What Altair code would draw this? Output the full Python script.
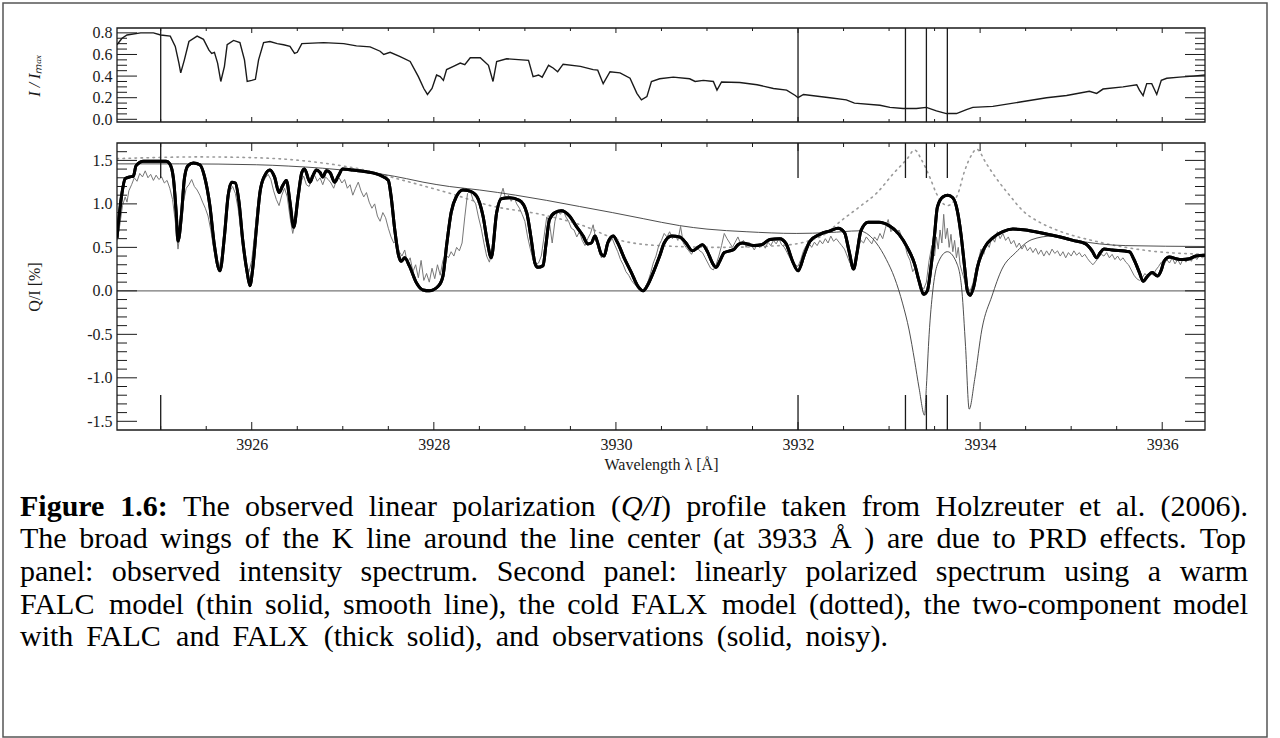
import re
import altair as alt
import pandas as pd

# ---------------------------------------------------------------- ranges
WL_DOMAIN = [3924.52, 3936.47]
INT_DOMAIN = [-0.025, 0.845]
POL_DOMAIN = [-1.6, 1.7]

PANEL_W = 1088
TOP_H = 94
BOT_H = 287
GAP = 21

INK = "#1a1a1a"
SERIF = "Liberation Serif"

# ---------------------------------------------------------------- data
# observed intensity spectrum, I / I_max
INTENSITY = [
    (3924.52, 0.69), (3924.575, 0.75), (3924.63, 0.78), (3924.78, 0.80), (3924.92, 0.80),
    (3925.00, 0.78), (3925.105, 0.77), (3925.16, 0.675), (3925.20, 0.52), (3925.22, 0.43),
    (3925.26, 0.55), (3925.31, 0.72), (3925.40, 0.77), (3925.47, 0.74), (3925.53, 0.64),
    (3925.56, 0.61), (3925.59, 0.62), (3925.625, 0.52), (3925.66, 0.35), (3925.70, 0.49),
    (3925.73, 0.69), (3925.80, 0.73), (3925.87, 0.71), (3925.92, 0.55), (3925.95, 0.35),
    (3926.00, 0.36), (3926.04, 0.37), (3926.075, 0.55), (3926.13, 0.71), (3926.20, 0.72),
    (3926.28, 0.70), (3926.35, 0.69), (3926.42, 0.675), (3926.47, 0.61), (3926.50, 0.62),
    (3926.55, 0.70), (3926.79, 0.71), (3927.01, 0.70), (3927.15, 0.68), (3927.30, 0.67),
    (3927.41, 0.63), (3927.45, 0.60), (3927.52, 0.62), (3927.63, 0.58), (3927.74, 0.535),
    (3927.83, 0.395), (3927.89, 0.285), (3927.93, 0.23), (3927.98, 0.285), (3928.03, 0.41),
    (3928.07, 0.395), (3928.105, 0.36), (3928.14, 0.46), (3928.215, 0.49), (3928.29, 0.52),
    (3928.34, 0.505), (3928.40, 0.57), (3928.51, 0.57), (3928.60, 0.50), (3928.65, 0.35),
    (3928.69, 0.535), (3928.80, 0.56), (3929.04, 0.545), (3929.09, 0.395), (3929.15, 0.41),
    (3929.19, 0.39), (3929.26, 0.50), (3929.31, 0.475), (3929.36, 0.44), (3929.42, 0.51),
    (3929.61, 0.49), (3929.75, 0.46), (3929.80, 0.455), (3929.86, 0.33), (3929.935, 0.44),
    (3930.045, 0.43), (3930.155, 0.38), (3930.23, 0.24), (3930.28, 0.18), (3930.34, 0.21),
    (3930.39, 0.35), (3930.48, 0.375), (3930.63, 0.39), (3930.81, 0.375), (3930.87, 0.35),
    (3930.96, 0.36), (3931.07, 0.35), (3931.11, 0.27), (3931.16, 0.345), (3931.36, 0.34),
    (3931.55, 0.32), (3931.73, 0.285), (3931.875, 0.27), (3931.97, 0.22), (3932.00, 0.20),
    (3932.06, 0.23), (3932.35, 0.20), (3932.53, 0.18), (3932.62, 0.15), (3932.90, 0.13),
    (3933.01, 0.11), (3933.155, 0.10), (3933.30, 0.10), (3933.41, 0.11), (3933.52, 0.078),
    (3933.63, 0.053), (3933.74, 0.053), (3933.85, 0.09), (3933.92, 0.11), (3934.14, 0.12),
    (3934.44, 0.16), (3934.73, 0.20), (3934.95, 0.22), (3935.20, 0.26), (3935.28, 0.24),
    (3935.35, 0.28), (3935.57, 0.30), (3935.72, 0.32), (3935.75, 0.27), (3935.79, 0.22),
    (3935.83, 0.33), (3935.885, 0.33), (3935.94, 0.23), (3935.99, 0.36), (3936.05, 0.38),
    (3936.19, 0.39), (3936.34, 0.40), (3936.47, 0.41),
]

# two-component model (FALC + FALX), Q/I in %
TWO_COMPONENT = [
    (3924.52, 0.61), (3924.57, 1.09), (3924.61, 1.29), (3924.66, 1.31), (3924.70, 1.32),
    (3924.73, 1.44), (3924.81, 1.49), (3925.06, 1.49), (3925.10, 1.46), (3925.14, 1.29),
    (3925.17, 0.90), (3925.19, 0.57), (3925.23, 0.90), (3925.26, 1.29), (3925.30, 1.44),
    (3925.36, 1.47), (3925.43, 1.45), (3925.48, 1.32), (3925.54, 0.98), (3925.59, 0.52),
    (3925.65, 0.23), (3925.70, 0.63), (3925.74, 1.09), (3925.78, 1.25), (3925.82, 1.24),
    (3925.86, 1.02), (3925.90, 0.59), (3925.95, 0.21), (3925.98, 0.06), (3926.01, 0.25),
    (3926.05, 0.71), (3926.09, 1.13), (3926.14, 1.32), (3926.20, 1.39), (3926.25, 1.31),
    (3926.30, 1.13), (3926.34, 1.21), (3926.38, 1.27), (3926.42, 1.02), (3926.46, 0.73),
    (3926.51, 1.09), (3926.55, 1.36), (3926.58, 1.40), (3926.64, 1.25), (3926.67, 1.32),
    (3926.71, 1.39), (3926.75, 1.36), (3926.78, 1.31), (3926.82, 1.38), (3926.86, 1.36),
    (3926.91, 1.25), (3926.95, 1.32), (3927.00, 1.40), (3927.11, 1.39), (3927.26, 1.37),
    (3927.41, 1.33), (3927.50, 1.27), (3927.53, 1.09), (3927.57, 0.71), (3927.61, 0.42),
    (3927.64, 0.34), (3927.68, 0.38), (3927.73, 0.29), (3927.81, 0.09), (3927.88, 0.01),
    (3927.95, 0.00), (3928.05, 0.055), (3928.10, 0.17), (3928.14, 0.52), (3928.19, 0.90),
    (3928.25, 1.09), (3928.32, 1.16), (3928.39, 1.15), (3928.47, 1.09), (3928.54, 0.86),
    (3928.59, 0.55), (3928.63, 0.38), (3928.69, 0.90), (3928.74, 1.06), (3928.83, 1.07),
    (3928.94, 1.04), (3929.02, 0.90), (3929.07, 0.59), (3929.11, 0.32), (3929.14, 0.27),
    (3929.20, 0.29), (3929.23, 0.52), (3929.27, 0.82), (3929.33, 0.90), (3929.40, 0.92),
    (3929.49, 0.86), (3929.56, 0.75), (3929.64, 0.63), (3929.69, 0.54), (3929.73, 0.55),
    (3929.77, 0.63), (3929.80, 0.55), (3929.84, 0.42), (3929.87, 0.40), (3929.91, 0.55),
    (3929.97, 0.63), (3930.02, 0.55), (3930.09, 0.38), (3930.17, 0.21), (3930.24, 0.055),
    (3930.30, 0.00), (3930.35, 0.07), (3930.41, 0.21), (3930.48, 0.40), (3930.53, 0.55),
    (3930.61, 0.63), (3930.70, 0.62), (3930.77, 0.55), (3930.84, 0.46), (3930.90, 0.50),
    (3930.95, 0.53), (3931.01, 0.44), (3931.06, 0.32), (3931.10, 0.27), (3931.14, 0.34),
    (3931.19, 0.44), (3931.25, 0.46), (3931.30, 0.48), (3931.34, 0.53), (3931.39, 0.55),
    (3931.47, 0.53), (3931.52, 0.52), (3931.60, 0.53), (3931.69, 0.59), (3931.80, 0.60),
    (3931.87, 0.54), (3931.94, 0.34), (3932.00, 0.23), (3932.07, 0.42), (3932.13, 0.57),
    (3932.24, 0.65), (3932.35, 0.69), (3932.44, 0.72), (3932.51, 0.67), (3932.56, 0.46),
    (3932.61, 0.25), (3932.65, 0.45), (3932.69, 0.69), (3932.77, 0.79), (3932.89, 0.79),
    (3933.00, 0.75), (3933.11, 0.65), (3933.20, 0.50), (3933.28, 0.31), (3933.33, 0.11),
    (3933.38, -0.04), (3933.42, 0.00), (3933.46, 0.27), (3933.50, 0.65), (3933.53, 0.96),
    (3933.59, 1.08), (3933.645, 1.10), (3933.70, 1.07), (3933.75, 0.92), (3933.79, 0.65),
    (3933.83, 0.27), (3933.86, 0.00), (3933.89, -0.05), (3933.93, 0.05), (3933.97, 0.27),
    (3934.05, 0.50), (3934.14, 0.61), (3934.25, 0.68), (3934.36, 0.71), (3934.50, 0.70),
    (3934.65, 0.67), (3934.83, 0.63), (3935.02, 0.58), (3935.16, 0.54), (3935.23, 0.46),
    (3935.28, 0.38), (3935.32, 0.44), (3935.36, 0.48), (3935.45, 0.47), (3935.64, 0.45),
    (3935.69, 0.36), (3935.75, 0.21), (3935.79, 0.11), (3935.84, 0.17), (3935.89, 0.21),
    (3935.95, 0.17), (3935.99, 0.24), (3936.02, 0.34), (3936.08, 0.39), (3936.15, 0.37),
    (3936.22, 0.36), (3936.30, 0.37), (3936.37, 0.40), (3936.47, 0.41),
]

# warm FALC model
FALC = [
    (3924.52, 1.46), (3925.21, 1.46), (3926.05, 1.45), (3926.40, 1.435), (3926.78, 1.41),
    (3927.10, 1.38), (3927.44, 1.34), (3927.70, 1.29), (3927.88, 1.25), (3928.17, 1.20),
    (3928.50, 1.16), (3928.90, 1.10), (3929.24, 1.04), (3929.60, 0.97), (3929.96, 0.90),
    (3930.30, 0.83), (3930.70, 0.75), (3931.00, 0.71), (3931.43, 0.68), (3931.98, 0.66),
    (3932.34, 0.67), (3932.67, 0.69), (3932.78, 0.64), (3932.86, 0.55), (3932.97, 0.36),
    (3933.06, 0.15), (3933.15, -0.15), (3933.22, -0.45), (3933.28, -0.80), (3933.33, -1.12),
    (3933.39, -1.43), (3933.41, -1.10), (3933.44, -0.50), (3933.48, 0.00), (3933.53, 0.30),
    (3933.64, 0.45), (3933.75, 0.30), (3933.80, 0.00), (3933.84, -0.64), (3933.88, -1.36),
    (3933.94, -1.02), (3934.02, -0.44), (3934.13, -0.06), (3934.24, 0.25), (3934.39, 0.44),
    (3934.57, 0.59), (3934.79, 0.63), (3935.05, 0.58), (3935.31, 0.54), (3935.60, 0.52),
    (3936.47, 0.51),
]

# cold FALX model
FALX = [
    (3924.52, 1.52), (3925.43, 1.54), (3926.06, 1.53), (3926.78, 1.47), (3927.19, 1.40),
    (3927.63, 1.28), (3928.18, 1.12), (3928.62, 0.98), (3929.17, 0.88), (3929.61, 0.76),
    (3930.05, 0.58), (3930.48, 0.52), (3931.14, 0.50), (3931.80, 0.52), (3932.24, 0.62),
    (3932.49, 0.82), (3932.68, 0.97), (3932.87, 1.13), (3933.04, 1.34), (3933.20, 1.52),
    (3933.28, 1.62), (3933.36, 1.50), (3933.45, 1.30), (3933.52, 1.12), (3933.64, 0.98),
    (3933.75, 1.10), (3933.83, 1.38), (3933.91, 1.57), (3933.96, 1.63), (3934.07, 1.46),
    (3934.18, 1.29), (3934.33, 1.09), (3934.47, 0.92), (3934.65, 0.79), (3934.84, 0.70),
    (3935.31, 0.56), (3935.86, 0.46), (3936.47, 0.42),
]

# observed Q/I profile
OBSERVED = [
    (3924.52, 0.58), (3924.55, 0.75), (3924.58, 0.98), (3924.61, 1.08), (3924.63, 1.02),
    (3924.65, 1.15), (3924.68, 1.22), (3924.71, 1.30), (3924.74, 1.26), (3924.77, 1.35),
    (3924.80, 1.31), (3924.83, 1.38), (3924.86, 1.30), (3924.89, 1.34), (3924.92, 1.27),
    (3924.95, 1.33), (3924.98, 1.28), (3925.01, 1.31), (3925.04, 1.24), (3925.07, 1.27),
    (3925.10, 1.18), (3925.13, 1.05), (3925.16, 0.80), (3925.19, 0.48), (3925.22, 0.72),
    (3925.25, 1.02), (3925.28, 1.18), (3925.31, 1.22), (3925.34, 1.28), (3925.37, 1.20),
    (3925.40, 1.16), (3925.43, 1.10), (3925.46, 1.02), (3925.49, 0.95), (3925.52, 0.86),
    (3925.55, 0.70), (3925.58, 0.50), (3925.61, 0.35), (3925.64, 0.26), (3925.67, 0.40),
    (3925.70, 0.70), (3925.73, 1.00), (3925.76, 1.15), (3925.79, 1.20), (3925.82, 1.12),
    (3925.85, 0.95), (3925.88, 0.70), (3925.91, 0.45), (3925.94, 0.30), (3925.97, 0.22),
    (3926.00, 0.35), (3926.03, 0.62), (3926.06, 0.95), (3926.09, 1.12), (3926.12, 1.25),
    (3926.15, 1.30), (3926.18, 1.34), (3926.21, 1.28), (3926.24, 1.15), (3926.27, 1.05),
    (3926.30, 0.98), (3926.33, 1.10), (3926.36, 1.18), (3926.39, 1.08), (3926.42, 0.85),
    (3926.45, 0.66), (3926.48, 0.80), (3926.51, 1.05), (3926.54, 1.25), (3926.57, 1.32),
    (3926.60, 1.22), (3926.63, 1.20), (3926.66, 1.28), (3926.69, 1.33), (3926.72, 1.26),
    (3926.75, 1.30), (3926.78, 1.22), (3926.81, 1.31), (3926.84, 1.28), (3926.87, 1.24),
    (3926.90, 1.18), (3926.93, 1.27), (3926.96, 1.30), (3926.99, 1.24), (3927.02, 1.28),
    (3927.05, 1.18), (3927.08, 1.22), (3927.11, 1.10), (3927.14, 1.18), (3927.17, 1.25),
    (3927.20, 1.15), (3927.23, 1.08), (3927.26, 1.13), (3927.29, 1.02), (3927.32, 0.95),
    (3927.35, 1.00), (3927.38, 0.86), (3927.41, 0.80), (3927.44, 0.90), (3927.47, 0.84),
    (3927.50, 0.72), (3927.53, 0.62), (3927.56, 0.55), (3927.59, 0.58), (3927.62, 0.45),
    (3927.65, 0.40), (3927.68, 0.47), (3927.71, 0.32), (3927.74, 0.38), (3927.77, 0.22),
    (3927.80, 0.30), (3927.83, 0.15), (3927.86, 0.35), (3927.89, 0.12), (3927.92, 0.20),
    (3927.95, 0.10), (3927.98, 0.26), (3928.01, 0.14), (3928.04, 0.30), (3928.07, 0.18),
    (3928.10, 0.35), (3928.13, 0.42), (3928.16, 0.38), (3928.19, 0.45), (3928.22, 0.40),
    (3928.25, 0.50), (3928.28, 0.46), (3928.31, 0.55), (3928.34, 0.85), (3928.37, 1.12),
    (3928.40, 1.15), (3928.43, 1.05), (3928.46, 1.00), (3928.49, 0.85), (3928.52, 0.72),
    (3928.55, 0.55), (3928.58, 0.40), (3928.61, 0.33), (3928.64, 0.45), (3928.67, 0.75),
    (3928.70, 0.98), (3928.73, 1.08), (3928.76, 1.18), (3928.79, 1.05), (3928.82, 1.10),
    (3928.85, 1.03), (3928.88, 1.08), (3928.91, 1.00), (3928.94, 0.95), (3928.97, 0.88),
    (3929.00, 0.80), (3929.03, 0.62), (3929.06, 0.48), (3929.09, 0.36), (3929.12, 0.30),
    (3929.15, 0.32), (3929.18, 0.40), (3929.21, 0.62), (3929.24, 0.85), (3929.27, 0.78),
    (3929.30, 0.55), (3929.33, 0.80), (3929.36, 0.92), (3929.39, 0.88), (3929.42, 0.93),
    (3929.45, 0.85), (3929.48, 0.80), (3929.51, 0.72), (3929.54, 0.70), (3929.57, 0.62),
    (3929.60, 0.68), (3929.63, 0.58), (3929.66, 0.52), (3929.69, 0.60), (3929.72, 0.66),
    (3929.75, 0.76), (3929.78, 0.58), (3929.81, 0.48), (3929.84, 0.38), (3929.87, 0.42),
    (3929.90, 0.52), (3929.93, 0.56), (3929.96, 0.60), (3929.99, 0.52), (3930.02, 0.45),
    (3930.05, 0.36), (3930.08, 0.30), (3930.11, 0.22), (3930.14, 0.18), (3930.17, 0.12),
    (3930.20, 0.08), (3930.23, 0.05), (3930.26, 0.02), (3930.29, 0.00), (3930.32, 0.04),
    (3930.35, 0.10), (3930.38, 0.20), (3930.41, 0.32), (3930.44, 0.40), (3930.47, 0.52),
    (3930.50, 0.58), (3930.53, 0.66), (3930.56, 0.62), (3930.59, 0.68), (3930.62, 0.60),
    (3930.65, 0.64), (3930.68, 0.58), (3930.71, 0.74), (3930.74, 0.55), (3930.77, 0.50),
    (3930.80, 0.46), (3930.83, 0.42), (3930.86, 0.48), (3930.89, 0.50), (3930.92, 0.46),
    (3930.95, 0.44), (3930.98, 0.38), (3931.01, 0.32), (3931.04, 0.26), (3931.07, 0.24),
    (3931.10, 0.30), (3931.13, 0.40), (3931.16, 0.52), (3931.19, 0.66), (3931.22, 0.60),
    (3931.25, 0.55), (3931.28, 0.50), (3931.31, 0.56), (3931.34, 0.62), (3931.37, 0.54),
    (3931.40, 0.58), (3931.43, 0.50), (3931.46, 0.56), (3931.49, 0.52), (3931.52, 0.47),
    (3931.55, 0.53), (3931.58, 0.50), (3931.61, 0.55), (3931.64, 0.49), (3931.67, 0.56),
    (3931.70, 0.52), (3931.73, 0.58), (3931.76, 0.54), (3931.79, 0.60), (3931.82, 0.53),
    (3931.85, 0.50), (3931.88, 0.44), (3931.91, 0.38), (3931.94, 0.34), (3931.97, 0.30),
    (3932.00, 0.28), (3932.03, 0.36), (3932.06, 0.46), (3932.09, 0.52), (3932.12, 0.55),
    (3932.15, 0.50), (3932.18, 0.56), (3932.21, 0.52), (3932.24, 0.58), (3932.27, 0.54),
    (3932.30, 0.60), (3932.33, 0.55), (3932.36, 0.63), (3932.39, 0.57), (3932.42, 0.60),
    (3932.45, 0.56), (3932.48, 0.52), (3932.51, 0.48), (3932.54, 0.40), (3932.57, 0.32),
    (3932.60, 0.28), (3932.63, 0.34), (3932.66, 0.48), (3932.69, 0.58), (3932.72, 0.55),
    (3932.75, 0.62), (3932.78, 0.58), (3932.81, 0.54), (3932.84, 0.62), (3932.87, 0.58),
    (3932.90, 0.66), (3932.93, 0.60), (3932.96, 0.72), (3932.99, 0.82), (3933.02, 0.68),
    (3933.05, 0.72), (3933.08, 0.66), (3933.11, 0.70), (3933.14, 0.62), (3933.17, 0.55),
    (3933.20, 0.42), (3933.23, 0.35), (3933.26, 0.22), (3933.29, 0.28), (3933.32, 0.12),
    (3933.35, 0.05), (3933.38, 0.02), (3933.41, 0.10), (3933.44, 0.35), (3933.47, 0.52),
    (3933.50, 0.40), (3933.52, 0.62), (3933.54, 0.48), (3933.56, 0.70), (3933.58, 0.55),
    (3933.60, 0.88), (3933.62, 0.60), (3933.64, 0.72), (3933.66, 0.50), (3933.68, 0.65),
    (3933.70, 0.45), (3933.72, 0.58), (3933.74, 0.38), (3933.76, 0.50), (3933.78, 0.30),
    (3933.80, 0.22), (3933.83, 0.12), (3933.86, 0.04), (3933.89, 0.00), (3933.92, 0.08),
    (3933.95, 0.22), (3933.98, 0.35), (3934.01, 0.48), (3934.04, 0.42), (3934.07, 0.55),
    (3934.10, 0.50), (3934.13, 0.62), (3934.16, 0.56), (3934.19, 0.68), (3934.22, 0.60),
    (3934.25, 0.66), (3934.28, 0.58), (3934.31, 0.62), (3934.34, 0.54), (3934.37, 0.58),
    (3934.40, 0.50), (3934.43, 0.55), (3934.46, 0.48), (3934.49, 0.53), (3934.52, 0.46),
    (3934.55, 0.50), (3934.58, 0.44), (3934.61, 0.49), (3934.64, 0.42), (3934.67, 0.47),
    (3934.70, 0.40), (3934.73, 0.46), (3934.76, 0.41), (3934.79, 0.48), (3934.82, 0.43),
    (3934.85, 0.46), (3934.88, 0.40), (3934.91, 0.45), (3934.94, 0.38), (3934.97, 0.44),
    (3935.00, 0.40), (3935.03, 0.46), (3935.06, 0.41), (3935.09, 0.44), (3935.12, 0.39),
    (3935.15, 0.42), (3935.18, 0.37), (3935.21, 0.33), (3935.24, 0.30), (3935.27, 0.34),
    (3935.30, 0.38), (3935.33, 0.42), (3935.36, 0.40), (3935.39, 0.44), (3935.42, 0.38),
    (3935.45, 0.42), (3935.48, 0.36), (3935.51, 0.40), (3935.54, 0.35), (3935.57, 0.38),
    (3935.60, 0.33), (3935.63, 0.30), (3935.66, 0.24), (3935.69, 0.18), (3935.72, 0.14),
    (3935.75, 0.12), (3935.78, 0.15), (3935.81, 0.20), (3935.84, 0.16), (3935.87, 0.22),
    (3935.90, 0.18), (3935.93, 0.24), (3935.96, 0.28), (3935.99, 0.33), (3936.02, 0.30),
    (3936.05, 0.36), (3936.08, 0.32), (3936.11, 0.38), (3936.14, 0.31), (3936.17, 0.36),
    (3936.20, 0.30), (3936.23, 0.37), (3936.26, 0.33), (3936.29, 0.38), (3936.32, 0.34),
    (3936.35, 0.40), (3936.38, 0.36), (3936.41, 0.41), (3936.44, 0.38), (3936.47, 0.40),
]

# wavelengths marked by vertical lines
MARKERS = [3925.0, 3932.0, 3933.18, 3933.41, 3933.64]

# axis ticks
WL_MAJOR = [3926, 3928, 3930, 3932, 3934, 3936]
WL_MINOR = [3925.0, 3925.5, 3926.5, 3927.0, 3927.5, 3928.5, 3929.0, 3929.5, 3930.5,
            3931.0, 3931.5, 3932.5, 3933.0, 3933.5, 3934.5, 3935.0, 3935.5]
POL_MAJOR = [-1.5, -1.0, -0.5, 0.0, 0.5, 1.0, 1.5]
POL_MINOR = [-1.4, -1.3, -1.2, -1.1, -0.9, -0.8, -0.7, -0.6, -0.4, -0.3, -0.2, -0.1,
             0.1, 0.2, 0.3, 0.4, 0.6, 0.7, 0.8, 0.9, 1.1, 1.2, 1.3, 1.4, 1.6]
INT_MAJOR = [0.0, 0.2, 0.4, 0.6, 0.8]
INT_MINOR = [0.05, 0.1, 0.15, 0.25, 0.3, 0.35, 0.45, 0.5, 0.55, 0.65, 0.7, 0.75]

CAPTION_LINES = [
    "**Figure 1.6:** The observed linear polarization (*Q/I*) profile taken from Holzreuter et al. (2006).",
    "The broad wings of the K line around the line center (at 3933 Å ) are due to PRD effects. Top",
    "panel: observed intensity spectrum. Second panel: linearly polarized spectrum using a warm",
    "FALC model (thin solid, smooth line), the cold FALX model (dotted), the two-component model",
    "with FALC and FALX (thick solid), and observations (solid, noisy).",
]

# ---------------------------------------------------------------- scales and axes
wl_scale = alt.Scale(domain=WL_DOMAIN, nice=False, zero=False)
int_scale = alt.Scale(domain=INT_DOMAIN, nice=False, zero=False)
pol_scale = alt.Scale(domain=POL_DOMAIN, nice=False, zero=False)

minus_fix = "replace(format(datum.value, '.1f'), '\u2212', '-')"

# every layer of a panel carries the same axis definition, so they merge cleanly
AX_WL = alt.Axis(values=WL_MAJOR, format="d", title="Wavelength λ [Å]",
                 labelPadding=6, titlePadding=4)
AX_INT = alt.Axis(values=INT_MAJOR, labelExpr=minus_fix, title="I / Iₘₐₓ",
                  titleX=-75, titleY=TOP_H / 2, titleFontStyle="italic", labelPadding=5)
AX_POL = alt.Axis(values=POL_MAJOR, labelExpr=minus_fix, title="Q/I [%]",
                  titleX=-75, titleY=BOT_H / 2, labelPadding=5)

PANELS = {
    "top": {"scale": int_scale, "xaxis": None, "yaxis": AX_INT, "h": TOP_H},
    "bottom": {"scale": pol_scale, "xaxis": AX_WL, "yaxis": AX_POL, "h": BOT_H},
}


def xenc(panel, field="wl"):
    return alt.X(f"{field}:Q", scale=wl_scale, axis=PANELS[panel]["xaxis"])


def yenc(panel, field):
    return alt.Y(f"{field}:Q", scale=PANELS[panel]["scale"], axis=PANELS[panel]["yaxis"])


def series(rows, name):
    return pd.DataFrame(rows, columns=["wl", name])


one_row = pd.DataFrame({"k": [0]})


def x_rules(panel, values, y0, y1, width=1.0):
    return alt.Chart(pd.DataFrame({"wl": values})).mark_rule(color=INK, strokeWidth=width).encode(
        x=xenc(panel), y=alt.value(y0), y2=alt.value(y1)
    )


def y_rules(panel, values, x0, x1):
    return alt.Chart(pd.DataFrame({"v": values})).mark_rule(color=INK, strokeWidth=1).encode(
        y=yenc(panel, "v"), x=alt.value(x0), x2=alt.value(x1)
    )


def box(w, h, **style):
    return alt.Chart(one_row).mark_rect(fillOpacity=0, **style).encode(
        x=alt.value(0), x2=alt.value(w), y=alt.value(0), y2=alt.value(h)
    )


def ticks(panel, major, minor, xmaj=8, xmin=4, ymaj=20, ymin=10):
    h = PANELS[panel]["h"]
    return [
        x_rules(panel, WL_MAJOR, h, h - xmaj), x_rules(panel, WL_MINOR, h, h - xmin),
        x_rules(panel, WL_MAJOR, 0, xmaj), x_rules(panel, WL_MINOR, 0, xmin),
        y_rules(panel, major, 0, ymaj), y_rules(panel, minor, 0, ymin),
        y_rules(panel, major, PANEL_W, PANEL_W - ymaj), y_rules(panel, minor, PANEL_W, PANEL_W - ymin),
    ]


# ---------------------------------------------------------------- top panel
intensity_line = alt.Chart(series(INTENSITY, "i")).mark_line(
    color=INK, strokeWidth=1.4, clip=True
).encode(x=xenc("top"), y=yenc("top", "i"))

outer_frame = alt.Chart(one_row).mark_rect(fillOpacity=0, stroke="#555", strokeWidth=1.5).encode(
    x=alt.value(3 - 117), x2=alt.value(1267 - 117), y=alt.value(3 - 28), y2=alt.value(737 - 28)
)

top = alt.layer(
    intensity_line,
    outer_frame,
    x_rules("top", MARKERS, 0, TOP_H, 1.3),
    *ticks("top", INT_MAJOR, INT_MINOR, xmaj=5, xmin=3),
    box(PANEL_W, TOP_H, stroke=INK, strokeWidth=1.3),
).properties(width=PANEL_W, height=TOP_H)

# ---------------------------------------------------------------- bottom panel
zero_line = alt.Chart(pd.DataFrame({"v": [0.0]})).mark_rule(color="#777", strokeWidth=1.2).encode(
    y=yenc("bottom", "v"), x=alt.value(0), x2=alt.value(PANEL_W)
)

falx_line = alt.Chart(series(FALX, "q")).mark_line(
    color="#9a9a9a", strokeWidth=1.6, strokeDash=[1.5, 4.5], strokeCap="round",
    interpolate="monotone", clip=True,
).encode(x=xenc("bottom"), y=yenc("bottom", "q"))

obs_line = alt.Chart(series(OBSERVED, "q")).mark_line(
    color="#777", strokeWidth=1.0, clip=True
).encode(x=xenc("bottom"), y=yenc("bottom", "q"))

falc_line = alt.Chart(series(FALC, "q")).mark_line(
    color="#3a3a3a", strokeWidth=0.9, interpolate="monotone", clip=True
).encode(x=xenc("bottom"), y=yenc("bottom", "q"))

two_comp_line = alt.Chart(series(TWO_COMPONENT, "q")).mark_line(
    color="#000", strokeWidth=3.0, interpolate="monotone", clip=True
).encode(x=xenc("bottom"), y=yenc("bottom", "q"))

bottom = alt.layer(
    two_comp_line, zero_line, falx_line, obs_line, falc_line,
    x_rules("bottom", MARKERS, 0, 35, 1.3), x_rules("bottom", MARKERS, BOT_H, BOT_H - 35, 1.3),
    *ticks("bottom", POL_MAJOR, POL_MINOR),
    box(PANEL_W, BOT_H, stroke=INK, strokeWidth=1.3),
    two_comp_line,
).properties(width=PANEL_W, height=BOT_H)

# ---------------------------------------------------------------- caption
CAP_SIZE = 30
ROMAN = {
    " ": 250, "(": 333, ")": 333, ",": 250, "-": 333, ".": 250, "/": 278, ":": 278,
    "A": 722, "C": 667, "D": 722, "F": 556, "H": 722, "I": 333, "K": 722, "L": 611,
    "P": 556, "Q": 722, "R": 667, "S": 556, "T": 611, "X": 722, "Å": 722,
    "a": 444, "b": 500, "c": 444, "d": 500, "e": 444, "f": 333, "g": 500, "h": 500,
    "i": 278, "k": 500, "l": 278, "m": 778, "n": 500, "o": 500, "p": 500, "r": 333,
    "s": 389, "t": 278, "u": 500, "v": 500, "w": 722, "y": 500, "z": 444,
}
BOLD = {"F": 611, "i": 278, "g": 500, "u": 556, "r": 444, "e": 444, ":": 333, ".": 250}


def text_width(s, style):
    table = BOLD if style == "bold" else ROMAN
    return sum(table.get(c, ROMAN.get(c, 500)) for c in s) * CAP_SIZE / 1000.0


def parse_words(line):
    words = [[]]
    for m in re.finditer(r"\*\*(.+?)\*\*|\*(.+?)\*|([^*]+)", line):
        if m.group(1) is not None:
            text, style = m.group(1), "bold"
        elif m.group(2) is not None:
            text, style = m.group(2), "italic"
        else:
            text, style = m.group(3), "normal"
        for i, part in enumerate(text.split(" ")):
            if i > 0:
                words.append([])
            if part:
                words[-1].append((part, style))
    return [w for w in words if w]


# text block: left edge, right edge per line, baselines (relative to caption view)
CAP_LEFT = 20 - 117
CAP_RIGHT = [1248 - 117, 1248 - 117, 1248 - 117, 1248 - 117, 888 - 117]
CAP_BASE = [516 - 451, 548 - 451, 581 - 451, 614 - 451, 646 - 451]

pieces = []
for line, right, base in zip(CAPTION_LINES, CAP_RIGHT, CAP_BASE):
    words = parse_words(line)
    widths = [sum(text_width(t, s) for t, s in w) for w in words]
    gap = (right - CAP_LEFT - sum(widths)) / (len(words) - 1)
    x = CAP_LEFT
    for w, ww in zip(words, widths):
        px = x
        for t, s in w:
            pieces.append({"x": px, "y": base, "text": t, "style": s})
            px += text_width(t, s)
        x += ww + gap
cap_df = pd.DataFrame(pieces)


def caption_layer(style, **font):
    return alt.Chart(cap_df).transform_filter(alt.datum.style == style).mark_text(
        align="left", baseline="alphabetic", font=SERIF, fontSize=CAP_SIZE, color="#000", **font
    ).encode(
        x=alt.X("x:Q", scale=None, axis=None),
        y=alt.Y("y:Q", scale=None, axis=None),
        text="text:N",
    )


caption = alt.layer(
    caption_layer("normal"),
    caption_layer("bold", fontWeight="bold"),
    caption_layer("italic", fontStyle="italic"),
).properties(width=PANEL_W, height=200)

# ---------------------------------------------------------------- figure
chart = alt.vconcat(
    top, bottom, caption, spacing=GAP, bounds="flush",
    padding={"left": 2, "top": 2, "right": 2, "bottom": 0},
).configure_view(stroke=None).configure_axis(
    grid=False, ticks=False, tickSize=0, domain=False,
    labelFont=SERIF, labelFontSize=16, labelColor=INK,
    titleFont=SERIF, titleFontSize=16, titleFontWeight="normal", titleColor=INK,
)

chart.save("out.html", embed_options={"renderer": "svg", "actions": False})
